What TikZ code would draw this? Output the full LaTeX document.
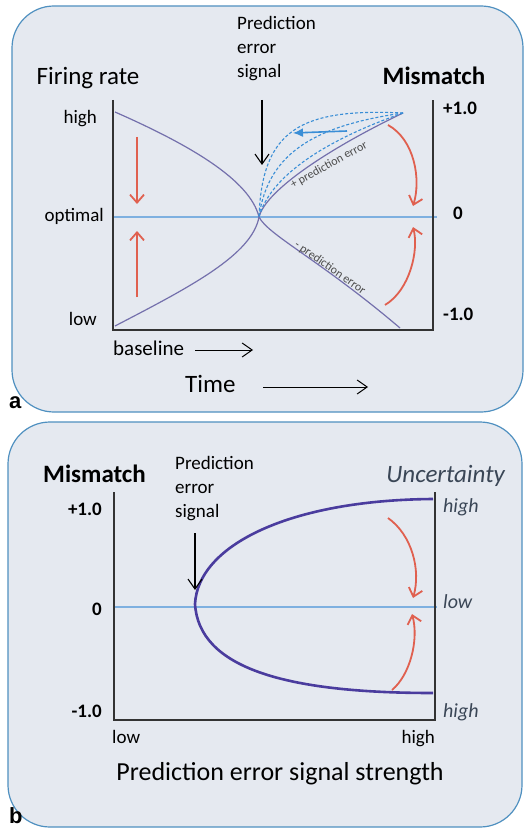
\documentclass[tikz,border=0pt]{standalone}
\usepackage{fontspec}
\setmainfont{Carlito}
\newfontfamily\panelfont{Liberation Sans}
\usetikzlibrary{arrows.meta,positioning}
\definecolor{panelfill}{HTML}{E5E9F0}
\definecolor{panelline}{HTML}{4F90C0}
\definecolor{redarrow}{HTML}{E0604F}
\definecolor{curvea}{HTML}{7470AC}
\definecolor{curveb}{HTML}{4A3C9E}
\definecolor{zeroline}{HTML}{7EB0E0}
\definecolor{dashblue}{HTML}{3A8ED6}
\definecolor{itext}{HTML}{3A4656}

\tikzset{
  panel/.style={draw=panelline, fill=panelfill, line width=1.2pt, rounded corners=42pt},
  axis/.style={draw=black!80, line width=1.6pt},
  zero/.style={draw=zeroline, line width=1.3pt},
  lab/.style={inner sep=0pt, font=\fontsize{19}{22}\selectfont},
  boldlab/.style={lab, font=\fontsize{19}{22}\selectfont\bfseries},
  title/.style={inner sep=0pt, font=\fontsize{25}{28}\selectfont},
  ulab/.style={lab, text=itext, font=\fontsize{20}{22}\selectfont\itshape},
  small/.style={inner sep=0pt, text=black!70, font=\fontsize{12}{13}\selectfont},
  signal/.style={inner sep=0pt, align=left, font=\fontsize{19}{24}\selectfont},
  pointer/.style={black, line width=1.1pt, -{Straight Barb[length=10pt,width=14pt]}},
  redarr/.style={redarrow, line width=1.8pt, -{Straight Barb[length=8pt,width=14pt]}},
  flow/.style={curvea, line width=1.2pt},
  fan/.style={dashblue, line width=1.1pt, densely dashed},
  letter/.style={inner sep=0pt, font=\fontsize{22}{24}\selectfont\panelfont\bfseries}
}

\begin{document}
\begin{tikzpicture}[x=1pt, y=-1pt]
  \useasboundingbox[fill=white] (0,0) rectangle (531,829);

  % panel a
  \draw[panel] (12,6) rectangle (523,412);
  \node[letter, anchor=base west] (la) at (9,408) {a};

  \coordinate (aLT) at (113,100);
  \coordinate (aO)  at (113,330);
  \coordinate (aR)  at (433,330);
  \coordinate (aRT) at (433,100);
  \coordinate (cross) at (259,217);
  \coordinate (hiL) at (115,112);
  \coordinate (loL) at (115,326);
  \coordinate (hiR) at (403,113);
  \coordinate (loR) at (400,328);

  \draw[zero] (113,217) -- (437,217);
  \draw[axis] (aLT) -- (aO) -- (aR) -- (aRT);

  \draw[flow] (hiL) .. controls (190,145) and (250,180) .. (cross)
                    .. controls (268,235) and (320,260) .. (loR);
  \draw[flow] (loL) .. controls (190,287) and (252,255) .. (cross)
                    .. controls (266,190) and (330,148) .. (hiR);

  \draw[fan] (hiR) .. controls (300,108) and (262,130) .. (cross);
  \draw[fan] (hiR) .. controls (320,125) and (268,150) .. (cross);
  \draw[fan] (hiR) .. controls (340,135) and (272,170) .. (cross);
  \coordinate (fanA) at (347,131);
  \coordinate (fanB) at (293,133);
  \draw[dashblue, line width=1.6pt, -{Latex[length=10pt,width=9pt]}] (fanA) -- (fanB);

  \node[small, rotate=29] (pplus) at (329,165) {+ prediction error};
  \node[small, rotate=-35] (pminus) at (330,268) {- prediction error};

  \node[title, anchor=base] (firing) at (88,85) {Firing rate};
  \node[title, anchor=base, font=\fontsize{25}{28}\selectfont\bfseries] (mismA) at (434,85) {Mismatch};
  \node[signal, anchor=north west] (sigA) at (237,16) {Prediction\\error\\signal};
  \coordinate (sigAtip) at (262,165);
  \draw[pointer] (262,100) -- (sigAtip);

  \node[lab, anchor=base east] (high) at (97,124) {high};
  \node[lab, anchor=base east] (optimal) at (104,221) {optimal};
  \node[lab, anchor=base east] (low) at (97,325) {low};
  \node[boldlab, anchor=base west] (pone) at (443,115) {+1.0};
  \node[boldlab, anchor=base] (zeroA) at (458,219) {0};
  \node[boldlab, anchor=base west] (mone) at (443,320) {-1.0};

  \node[lab, anchor=base west, font=\fontsize{21}{24}\selectfont] (base) at (113,355) {baseline};
  \draw[pointer, line width=1pt] (195,350) -- (253,350);
  \node[title, anchor=base west] (time) at (185,392) {Time};
  \draw[pointer, line width=1pt] (263,387) -- (368,387);

  \draw[redarr] (137,137) -- (137,204);
  \draw[redarr] (137,297) -- (137,231);
  \draw[redarr] (388,125) .. controls (415,140) and (421,180) .. (413,206);
  \draw[redarr] (385,305) .. controls (410,290) and (419,250) .. (413,227);

  % panel b
  \draw[panel] (8,422) rectangle (522,827);
  \node[letter, anchor=base west] (lb) at (9,823) {b};

  \coordinate (bLT) at (114,492);
  \coordinate (bO)  at (114,720);
  \coordinate (bR)  at (435,720);
  \coordinate (bRT) at (435,492);
  \coordinate (vert) at (195,604);
  \coordinate (upEnd) at (433,499);
  \coordinate (loEnd) at (433,693);

  \draw[zero] (114,607) -- (437,607);
  \draw[axis] (bLT) -- (bO) -- (bR) -- (bRT);
  \draw[curveb, line width=2.6pt] (upEnd) .. controls (290,500) and (198,545) .. (vert)
        .. controls (199,668) and (285,693) .. (loEnd);

  \node[title, anchor=base west, font=\fontsize{25}{28}\selectfont\bfseries] (mismB) at (43,482) {Mismatch};
  \node[signal, anchor=north west] (sigB) at (175,456) {Prediction\\error\\signal};
  \coordinate (sigBtip) at (195,590);
  \draw[pointer] (195,533) -- (sigBtip);

  \node[boldlab, anchor=base east] (ponb) at (102,515) {+1.0};
  \node[boldlab, anchor=base east] (zerob) at (102,615) {0};
  \node[boldlab, anchor=base east] (monb) at (102,717) {-1.0};
  \node[lab, anchor=base west] (lowb) at (112,743) {low};
  \node[lab, anchor=base east] (highb) at (435,743) {high};
  \node[title, anchor=base, font=\fontsize{26}{28}\selectfont] (strength) at (280,780) {Prediction error signal strength};

  \node[title, anchor=base east, text=itext, font=\fontsize{25}{28}\selectfont\itshape] (unc) at (505,482) {Uncertainty};
  \node[ulab, anchor=base west] (uhigh) at (443,512) {high};
  \node[ulab, anchor=base west] (ulow) at (443,608) {low};
  \node[ulab, anchor=base west] (uhigh2) at (443,717) {high};

  \draw[redarr] (388,518) .. controls (412,535) and (421,570) .. (413,598);
  \draw[redarr] (392,690) .. controls (410,675) and (419,640) .. (412,614);
\end{tikzpicture}
\end{document}
